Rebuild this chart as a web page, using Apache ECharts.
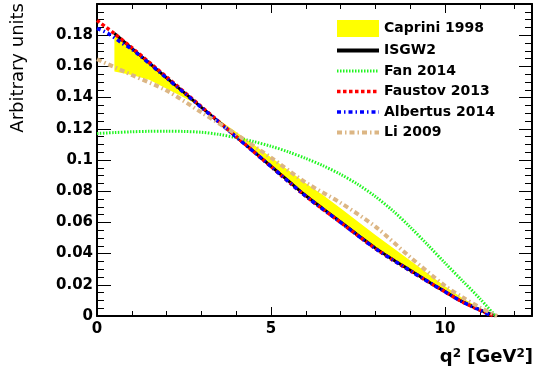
<!DOCTYPE html>
<html>
<head>
<meta charset="utf-8">
<script src="https://cdn.jsdelivr.net/npm/echarts@6/dist/echarts.min.js"></script>
<style>
  html, body { margin: 0; padding: 0; background: #fff; }
  #chart { width: 534px; height: 374px; }
</style>
</head>
<body>
<div id="chart"></div>
<script>
// q^2 grids (GeV^2) and differential rates (arbitrary units) for each model
const capriniQ    = [0.5, 1, 1.5, 2, 2.5, 3, 3.5, 4, 5, 6, 6.5, 7, 8, 9, 10, 10.5, 11, 11.45];
const capriniLow  = [0.1567, 0.1545, 0.1515, 0.1457, 0.1400, 0.1338, 0.1243, 0.1149, 0.0960, 0.0771, 0.0687, 0.0603, 0.0435, 0.0293, 0.0157, 0.0090, 0.0041, 0];
const capriniHigh = [0.1812, 0.1716, 0.1622, 0.1527, 0.1433, 0.1340, 0.1258, 0.1179, 0.1018, 0.0851, 0.0774, 0.0690, 0.0520, 0.0355, 0.0190, 0.0115, 0.0052, 0];

const isgw2Q = [0.5, 1, 1.5, 2, 2.5, 3, 3.5, 4, 4.5, 5, 5.5, 6, 6.5, 7, 7.5, 8, 8.5, 9, 9.5, 10, 10.5, 11, 11.3, 11.45];
const isgw2V = [0.1812, 0.1716, 0.1622, 0.1527, 0.1433, 0.1338, 0.1244, 0.1149, 0.1055, 0.0960, 0.0866, 0.0771, 0.0687, 0.0603, 0.0518, 0.0435, 0.0362, 0.0293, 0.0223, 0.0157, 0.0092, 0.0040, 0.0013, 0];

const fanQ = [0, 0.5, 1, 1.5, 2, 2.5, 3, 3.5, 4, 4.5, 5, 5.5, 6, 6.5, 7, 7.5, 8, 8.5, 9, 9.5, 10, 10.5, 11, 11.45];
const fanV = [0.1170, 0.1176, 0.1181, 0.1184, 0.1185, 0.1183, 0.1178, 0.1164, 0.1143, 0.1118, 0.1088, 0.1052, 0.1010, 0.0963, 0.0908, 0.0843, 0.0766, 0.0675, 0.0570, 0.0457, 0.0340, 0.0226, 0.0112, 0];

const faustovQ = [0, 0.5, 1, 2, 3, 4, 5, 6, 7, 8, 9, 10, 10.5, 11, 11.4];
const faustovV = [0.1895, 0.1810, 0.1720, 0.1532, 0.1342, 0.1150, 0.0958, 0.0768, 0.0600, 0.0432, 0.0290, 0.0155, 0.0090, 0.0038, 0];

const albertusQ = [0, 0.33, 0.7, 1, 2, 3, 4, 5, 6, 7, 8, 9, 10, 10.5, 11, 11.35];
const albertusV = [0.1844, 0.1810, 0.1752, 0.1710, 0.1525, 0.1337, 0.1148, 0.0958, 0.0768, 0.0600, 0.0432, 0.0290, 0.0155, 0.0090, 0.0038, 0];

const liQ = [0, 1, 2, 3, 4, 5, 6, 7, 8, 9, 10, 10.5, 11, 11.5];
const liV = [0.1646, 0.1545, 0.1445, 0.1305, 0.1165, 0.1015, 0.0855, 0.0725, 0.0573, 0.0377, 0.0193, 0.0120, 0.0055, 0];

const xTicksMajor = 5, xTicksMinor = 1;
const yTicksMajor = 0.02;

const pairs = (qs, vs) => qs.map((q, i) => [q, vs[i]]);

const FONT = '"DejaVu Sans", sans-serif';

function xAxisDef(position, interval, tickLen, withLabels, withLine) {
  return {
    type: 'value', position: position, min: 0, max: 12.5, interval: interval,
    axisLine: { show: withLine, onZero: false, lineStyle: { color: '#000', width: 2 } },
    axisTick: { show: true, inside: true, length: tickLen, lineStyle: { color: '#000', width: 1 } },
    axisLabel: { show: withLabels, margin: 6, showMaxLabel: false, color: '#000',
                 fontFamily: FONT, fontWeight: 'bold', fontSize: 15 },
    splitLine: { show: false }
  };
}
function yAxisDef(position, tickLen, withLabels) {
  return {
    type: 'value', position: position, min: 0, max: 0.2, interval: yTicksMajor,
    axisLine: { show: true, onZero: false, lineStyle: { color: '#000', width: 2 } },
    axisTick: { show: true, inside: true, length: tickLen, lineStyle: { color: '#000', width: 1 } },
    minorTick: { show: true, splitNumber: 4, length: 7, lineStyle: { color: '#000', width: 1 } },
    axisLabel: { show: withLabels, margin: 4, showMaxLabel: false, color: '#000',
                 fontFamily: FONT, fontWeight: 'bold', fontSize: 15 },
    splitLine: { show: false }, minorSplitLine: { show: false }
  };
}

function curve(name, qs, vs, color, width, dash) {
  return {
    name: name, type: 'line', data: pairs(qs, vs), symbol: 'none', smooth: 0.3,
    color: color,
    lineStyle: { color: color, width: width, type: dash, cap: 'butt' },
    xAxisIndex: 0, yAxisIndex: 0
  };
}

// legend entry for a line model: show only the dashed stroke, no marker
const lineEntry = (name, extra) => Object.assign({
  name: name, itemStyle: { color: 'rgba(0,0,0,0)', borderWidth: 0, opacity: 0 }
}, extra || {});

const chart = echarts.init(document.getElementById('chart'), null, { renderer: 'canvas' });
chart.setOption({
  animation: false,
  backgroundColor: '#fff',
  grid: { left: 97, right: 2, top: 4, bottom: 58 },
  xAxis: [
    xAxisDef('bottom', xTicksMajor, 9, true, true),
    xAxisDef('bottom', xTicksMinor, 5, false, false),
    xAxisDef('top', xTicksMajor, 9, false, true),
    xAxisDef('top', xTicksMinor, 5, false, false)
  ],
  yAxis: [
    yAxisDef('left', 14, true),
    yAxisDef('right', 13, false)
  ],
  legend: {
    orient: 'vertical', left: 330, top: 15,
    itemWidth: 42, itemHeight: 17, itemGap: 6.5,
    symbolKeepAspect: false, selectedMode: false,
    lineStyle: { width: 'inherit' },
    textStyle: { color: '#000', fontFamily: FONT, fontWeight: 'bold', fontSize: 14 },
    data: [
      { name: 'Caprini 1998', icon: 'rect', itemStyle: { color: '#ffff00', borderWidth: 0 } },
      lineEntry('ISGW2', { lineStyle: { width: 4 } }), lineEntry('Fan 2014'), lineEntry('Faustov 2013'),
      lineEntry('Albertus 2014'), lineEntry('Li 2009')
    ]
  },
  graphic: [
    { type: 'text', x: 18, y: 3, rotation: Math.PI / 2,
      style: { text: 'Arbitrary units', font: '18px ' + FONT, fill: '#000',
               align: 'right', verticalAlign: 'middle' } },
    { type: 'text', x: 533, y: 366,
      style: { text: '{a|q}{s|2}{a| [GeV}{s|2}{a|]}', fill: '#000',
               align: 'right', verticalAlign: 'bottom',
               rich: {
                 a: { fontFamily: FONT, fontWeight: 'bold', fontSize: 18, fill: '#000' },
                 s: { fontFamily: FONT, fontWeight: 'bold', fontSize: 12, fill: '#000', verticalAlign: 'top' }
               } } }
  ],
  series: [
    {
      // uncertainty band: one polygon between the lower and upper edges
      name: 'Caprini 1998', type: 'custom', xAxisIndex: 0, yAxisIndex: 0,
      data: capriniQ.map((q, i) => [q, capriniLow[i], capriniHigh[i]]),
      encode: { x: 0, y: [1, 2] },
      itemStyle: { color: '#ffff00' },
      clip: true, silent: true,
      renderItem: function (params, api) {
        if (params.dataIndex !== 0) return null;
        const lower = capriniQ.map((q, i) => api.coord([q, capriniLow[i]]));
        const upper = capriniQ.map((q, i) => api.coord([q, capriniHigh[i]])).reverse();
        return { type: 'polygon', shape: { points: lower.concat(upper) },
                 style: { fill: '#ffff00', stroke: null } };
      }
    },
    curve('ISGW2', isgw2Q, isgw2V, '#000000', 3, 'solid'),
    curve('Fan 2014', fanQ, fanV, '#22f522', 3, [1.5, 1.5]),
    curve('Faustov 2013', faustovQ, faustovV, '#ff0000', 3.5, [3.5, 2.5]),
    curve('Albertus 2014', albertusQ, albertusV, '#0000ff', 3.5, [4, 3, 1.5, 3]),
    curve('Li 2009', liQ, liV, '#dcb684', 4, [5, 3, 1.5, 3])
  ]
});
</script>
</body>
</html>
